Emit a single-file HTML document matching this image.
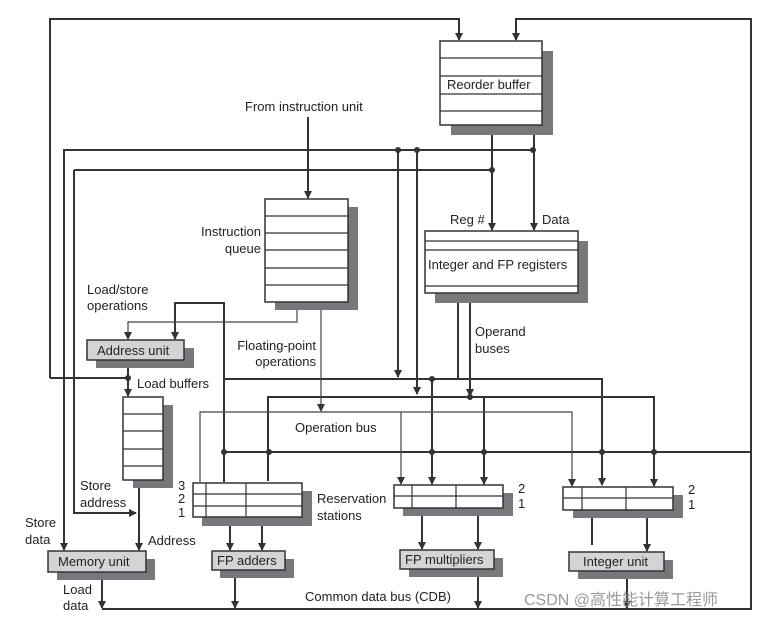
<!DOCTYPE html>
<html><head><meta charset="utf-8"><style>
body{margin:0;background:#fff}
svg{display:block}
text{font-family:"Liberation Sans",Arial,sans-serif;font-size:13px;fill:#222}
</style></head><body>
<svg width="771" height="619" viewBox="0 0 771 619" xmlns="http://www.w3.org/2000/svg">
<defs>
<marker id="a" markerWidth="8" markerHeight="8" refX="7" refY="4" orient="auto" markerUnits="userSpaceOnUse">
<path d="M0,0 L8,4 L0,8 z" fill="#333"/>
</marker>
</defs>
<g fill="none" stroke="#333" stroke-width="2">
<polyline points="50,378 50,19 459,19 459,40" marker-end="url(#a)"/>
<polyline points="102,609 751,609 751,19 516,19 516,40" marker-end="url(#a)"/>
<polyline points="533,150 64,150 64,550" marker-end="url(#a)"/>
<polyline points="74,170 492,170"/>
<polyline points="74,170 74,513 136,513" marker-end="url(#a)"/>
<line x1="492" y1="125" x2="492" y2="230" marker-end="url(#a)"/>
<line x1="534" y1="125" x2="534" y2="230" marker-end="url(#a)"/>
<line x1="398" y1="150" x2="398" y2="377" marker-end="url(#a)"/>
<line x1="417" y1="150" x2="417" y2="394" marker-end="url(#a)"/>
<line x1="50" y1="378" x2="128" y2="378"/>
<polyline points="458,293 458,379"/>
<polyline points="224,379 602,379 602,485" marker-end="url(#a)"/>
<line x1="432" y1="379" x2="432" y2="484" marker-end="url(#a)"/>
<line x1="470" y1="293" x2="470" y2="396" marker-end="url(#a)"/>
<polyline points="268,481 268,397 654,397 654,486" marker-end="url(#a)"/>
<line x1="484" y1="397" x2="484" y2="484" marker-end="url(#a)"/>
<line x1="224" y1="452" x2="751" y2="452"/>
<polyline points="224,482 224,303 175,303 175,339" marker-end="url(#a)"/>
<line x1="308" y1="117" x2="308" y2="198" marker-end="url(#a)"/>
<line x1="128" y1="360" x2="128" y2="396" marker-end="url(#a)"/>
<line x1="139" y1="480" x2="139" y2="550" marker-end="url(#a)"/>
<line x1="102" y1="572" x2="102" y2="608" marker-end="url(#a)"/>
<line x1="230" y1="517" x2="230" y2="550" marker-end="url(#a)"/>
<line x1="262" y1="517" x2="262" y2="550" marker-end="url(#a)"/>
<line x1="235" y1="570" x2="235" y2="608" marker-end="url(#a)"/>
<line x1="422" y1="508" x2="422" y2="549" marker-end="url(#a)"/>
<line x1="478" y1="508" x2="478" y2="549" marker-end="url(#a)"/>
<line x1="478" y1="569" x2="478" y2="608" marker-end="url(#a)"/>
<line x1="592" y1="510" x2="592" y2="545"/>
<line x1="647" y1="510" x2="647" y2="551" marker-end="url(#a)"/>
<line x1="627" y1="571" x2="627" y2="608" marker-end="url(#a)"/>
</g>
<g fill="none" stroke="#444" stroke-width="1.2">
<polyline points="297,302 297,322 128,322 128,339" marker-end="url(#a)"/>
<line x1="321" y1="302" x2="321" y2="411" marker-end="url(#a)"/>
<polyline points="200,482 200,412 572,412 572,486" marker-end="url(#a)"/>
<line x1="401" y1="412" x2="401" y2="484" marker-end="url(#a)"/>
</g>
<g fill="#333">
<circle cx="398" cy="150" r="3"/><circle cx="417" cy="150" r="3"/><circle cx="533" cy="150" r="3"/>
<circle cx="492" cy="170" r="3"/><circle cx="128" cy="378" r="3"/>
<circle cx="432" cy="379" r="3"/><circle cx="470" cy="397" r="3"/>
<circle cx="224" cy="452" r="3"/><circle cx="269" cy="452" r="3"/><circle cx="432" cy="452" r="3"/>
<circle cx="484" cy="452" r="3"/><circle cx="602" cy="452" r="3"/><circle cx="654" cy="452" r="3"/>
</g>
<g fill="#77787c">
<rect x="451" y="51" width="102" height="84"/>
<rect x="435" y="241" width="153" height="62"/>
<rect x="275" y="207" width="83" height="103"/>
<rect x="96" y="348" width="98" height="20"/>
<rect x="133" y="405" width="40" height="83"/>
<rect x="57" y="559" width="98" height="21"/>
<rect x="202" y="491" width="110" height="35"/>
<rect x="220" y="559" width="74" height="19"/>
<rect x="403" y="493" width="110" height="23"/>
<rect x="409" y="558" width="94" height="19"/>
<rect x="573" y="495" width="110" height="23"/>
<rect x="578" y="560" width="95" height="19"/>
</g>
<g fill="#fff" stroke="#333" stroke-width="1.5">
<rect x="440" y="41" width="102" height="84"/>
<rect x="425" y="231" width="153" height="62"/>
<rect x="265" y="199" width="83" height="103"/>
<rect x="123" y="397" width="40" height="83"/>
<rect x="193" y="483" width="109" height="34"/>
<rect x="394" y="485" width="109" height="23"/>
<rect x="563" y="487" width="110" height="23"/>
</g>
<g fill="#d4d4d4" stroke="#333" stroke-width="1.5">
<rect x="87" y="340" width="97" height="20"/>
<rect x="48" y="551" width="98" height="21"/>
<rect x="212" y="551" width="73" height="19"/>
<rect x="400" y="550" width="94" height="19"/>
<rect x="569" y="552" width="95" height="19"/>
</g>
<g stroke="#333" stroke-width="1.2">
<line x1="440" y1="58" x2="542" y2="58"/><line x1="440" y1="76" x2="542" y2="76"/>
<line x1="440" y1="94" x2="542" y2="94"/><line x1="440" y1="111" x2="542" y2="111"/>
<line x1="425" y1="241" x2="578" y2="241"/><line x1="425" y1="250" x2="578" y2="250"/>
<line x1="425" y1="286" x2="578" y2="286"/>
<line x1="265" y1="216" x2="348" y2="216"/><line x1="265" y1="233" x2="348" y2="233"/>
<line x1="265" y1="250" x2="348" y2="250"/><line x1="265" y1="268" x2="348" y2="268"/>
<line x1="265" y1="285" x2="348" y2="285"/>
<line x1="123" y1="414" x2="163" y2="414"/><line x1="123" y1="431" x2="163" y2="431"/>
<line x1="123" y1="449" x2="163" y2="449"/><line x1="123" y1="466" x2="163" y2="466"/>
<line x1="193" y1="494" x2="302" y2="494"/><line x1="193" y1="506" x2="302" y2="506"/>
<line x1="206" y1="483" x2="206" y2="517"/><line x1="246" y1="483" x2="246" y2="517"/>
<line x1="394" y1="496" x2="503" y2="496"/>
<line x1="412" y1="485" x2="412" y2="508"/><line x1="456" y1="485" x2="456" y2="508"/>
<line x1="563" y1="498" x2="673" y2="498"/>
<line x1="582" y1="487" x2="582" y2="510"/><line x1="626" y1="487" x2="626" y2="510"/>
</g>
<text x="447" y="89">Reorder buffer</text>
<text x="428" y="269">Integer and FP registers</text>
<text x="245" y="111">From instruction unit</text>
<text x="450" y="224">Reg #</text>
<text x="542" y="224">Data</text>
<text x="261" y="236" text-anchor="end">Instruction</text>
<text x="261" y="253" text-anchor="end">queue</text>
<text x="87" y="294">Load/store</text>
<text x="87" y="310">operations</text>
<text x="97" y="355">Address unit</text>
<text x="316" y="350" text-anchor="end">Floating-point</text>
<text x="316" y="366" text-anchor="end">operations</text>
<text x="475" y="336">Operand</text>
<text x="475" y="353">buses</text>
<text x="137" y="388">Load buffers</text>
<text x="295" y="432">Operation bus</text>
<text x="80" y="490">Store</text>
<text x="80" y="507">address</text>
<text x="25" y="527">Store</text>
<text x="25" y="544">data</text>
<text x="148" y="545">Address</text>
<text x="58" y="566">Memory unit</text>
<text x="217" y="565">FP adders</text>
<text x="405" y="564">FP multipliers</text>
<text x="583" y="566">Integer unit</text>
<text x="63" y="594">Load</text>
<text x="63" y="610">data</text>
<text x="305" y="601">Common data bus (CDB)</text>
<text x="317" y="503">Reservation</text>
<text x="317" y="520">stations</text>
<text x="178" y="490">3</text><text x="178" y="503">2</text><text x="178" y="517">1</text>
<text x="518" y="493">2</text><text x="518" y="508">1</text>
<text x="688" y="494">2</text><text x="688" y="509">1</text>
<text x="524" y="605" style="font-family:'Liberation Sans','Noto Sans CJK SC',sans-serif;font-size:16px;fill:#999">CSDN @高性能计算工程师</text>
</svg>
</body></html>
